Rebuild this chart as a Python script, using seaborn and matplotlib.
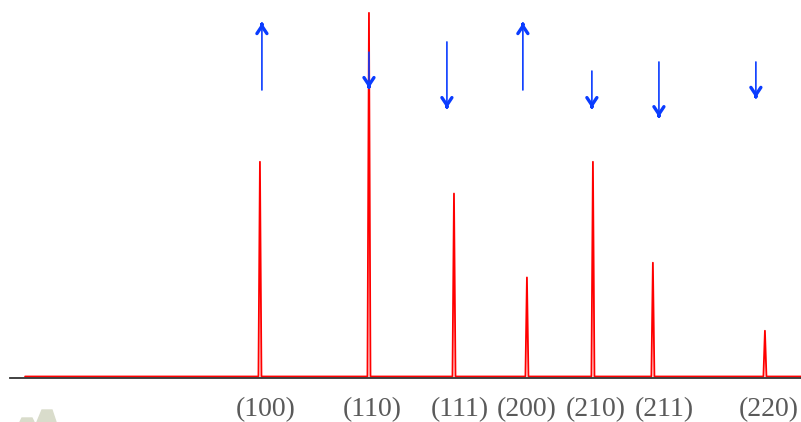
import numpy as np
import pandas as pd
import seaborn as sns
import matplotlib.pyplot as plt
from matplotlib.patches import Polygon

# posicoes dos picos (2theta, graus) e intensidades
peak_pos = [21.55, 30.95, 38.28, 44.57, 50.26, 55.43, 65.09]
peak_int = [568, 962, 484, 262, 568, 301, 121]
baseline = 4
scan_start, scan_end = 1.3, 68.2
peak_half_width = 0.13

# indices de Miller e posicao dos rotulos
hkl_labels = ['(100)', '(110)', '(111)', '(200)', '(210)', '(211)', '(220)']
label_pos = [22.07, 31.21, 38.80, 44.57, 50.52, 56.38, 65.43]

# setas: x, inicio e fim (y)
arrow_x = [21.72, 30.95, 37.67, 44.22, 50.17, 55.95, 64.31]
arrow_y0 = [762, 862, 889, 762, 812, 836, 836]
arrow_y1 = [939, 767, 714, 939, 714, 690, 741]

# monta a curva a partir dos picos
xs = [scan_start]
ys = [baseline]
for p, h in zip(peak_pos, peak_int):
    xs += [p - peak_half_width, p, p + peak_half_width]
    ys += [baseline, baseline + h, baseline]
xs.append(scan_end)
ys.append(baseline)
df = pd.DataFrame({'two_theta': xs, 'intensity': ys})

sns.set_theme(style='white')
fig = plt.figure(figsize=(8.01, 4.22), dpi=100)
ax = fig.add_axes([10 / 801, 1 - 378 / 422, 791 / 801, 378 / 422])

sns.lineplot(data=df, x='two_theta', y='intensity', color='#ff0000',
             linewidth=1.3, estimator=None, sort=False, ax=ax)

blue = '#0a3cff'
for x, y0, y1 in zip(arrow_x, arrow_y0, arrow_y1):
    ax.annotate('', xy=(x, y1), xytext=(x, y0),
                arrowprops=dict(arrowstyle='-', color=blue, lw=1.2,
                                shrinkA=0, shrinkB=0))
    d = 4 if y1 > y0 else -4
    ax.annotate('', xy=(x, y1), xytext=(x, y1 - d),
                arrowprops=dict(arrowstyle='->,head_length=0.45,head_width=0.3',
                                color=blue, lw=2.4, shrinkA=0, shrinkB=0))

for lab, x in zip(hkl_labels, label_pos):
    ax.text(x, -0.1, lab, transform=ax.get_xaxis_transform(),
            ha='center', va='baseline', fontsize=20, color='#5a5a5a',
            family=['Liberation Serif', 'DejaVu Serif'])

ax.set_xlim(0, 68.2)
ax.set_ylim(0, 1000)
ax.set_xticks([])
ax.set_yticks([])
ax.set_xlabel('')
ax.set_ylabel('')
for s in ['top', 'left', 'right']:
    ax.spines[s].set_visible(False)
ax.spines['bottom'].set_color('#333333')
ax.spines['bottom'].set_linewidth(1.3)
ax.patch.set_alpha(0)

# marca d'agua no canto
W, H = 801, 422
fig.patches.append(Polygon([[20 / W, 0], [22 / W, 4 / H], [32 / W, 4 / H], [34 / W, 0]],
                           closed=True, transform=fig.transFigure, color='#d9dccb', zorder=0))
fig.patches.append(Polygon([[37 / W, 0], [42 / W, 12 / H], [52 / W, 12 / H], [56 / W, 0]],
                           closed=True, transform=fig.transFigure, color='#d9dccb', zorder=0))

fig.savefig('out.png', dpi=100)
